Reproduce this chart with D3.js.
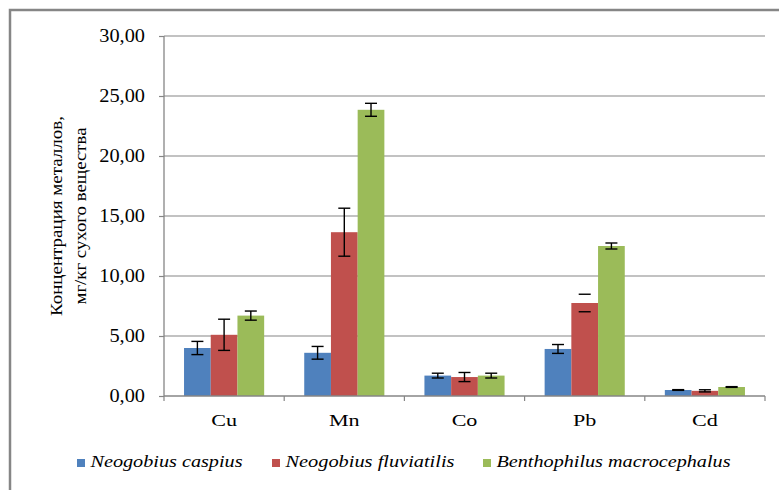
<!DOCTYPE html>
<html><head><meta charset="utf-8">
<script src="https://cdn.jsdelivr.net/npm/d3@7/dist/d3.min.js"></script>
<style>
body{margin:0;background:#fff;}
svg{display:block;}
text{font-family:"Liberation Serif","Times New Roman",serif;fill:#000;}
</style></head>
<body><svg id="c" width="779" height="490"></svg>
<script>
const categories = ["Cu","Mn","Co","Pb","Cd"];
const seriesNames = ["Neogobius caspius","Neogobius fluviatilis","Benthophilus macrocephalus"];
const seriesColors = ["#4F81BD","#C0504D","#9BBB59"];
const caspius    = [4.00, 3.60, 1.70, 3.92, 0.50];
const fluviatilis= [5.10, 13.65, 1.58, 7.75, 0.43];
const benthoph   = [6.70, 23.85, 1.70, 12.50, 0.75];
const caspiusErr    = [0.55, 0.53, 0.20, 0.37, 0.03];
const fluviatilisErr= [1.30, 2.00, 0.38, 0.73, 0.09];
const benthophErr   = [0.38, 0.54, 0.20, 0.25, 0.03];
const fluviatilisStem = [true, true, true, false, true];
const yTicks = [0,5,10,15,20,25,30];
const yTitle = ["Концентрация  металлов,", "мг/кг сухого вещества"];

const values = [caspius, fluviatilis, benthoph];
const errs = [caspiusErr, fluviatilisErr, benthophErr];
const stems = [categories.map(()=>true), fluviatilisStem, categories.map(()=>true)];

const svg = d3.select("#c");
const grey = "#868686";

// outer border
svg.append("rect").attr("x",10).attr("y",10).attr("width",800).attr("height",520)
  .attr("fill","none").attr("stroke",grey).attr("stroke-width",2.5);

const x = d3.scaleBand().domain(categories).range([164,765]).paddingInner(0).paddingOuter(0);
const y = d3.scaleLinear().domain([0,30]).range([396,36]);
const bw = x.bandwidth()/4.5;
const sub = d3.scaleBand().domain(d3.range(3)).range([x.bandwidth()/2-1.5*bw, x.bandwidth()/2+1.5*bw]);

// gridlines
svg.append("g").selectAll("line").data(yTicks.filter(t=>t>0)).join("line")
  .attr("x1",164).attr("x2",765).attr("y1",d=>y(d)).attr("y2",d=>y(d))
  .attr("stroke",grey).attr("stroke-width",1.2);

// y axis
const ya = svg.append("g").attr("transform","translate(164,0)")
  .call(d3.axisLeft(y).tickValues(yTicks).tickSize(5).tickPadding(0).tickFormat(()=>""));
ya.select(".domain").attr("stroke",grey).attr("stroke-width",1.3).attr("d","M0,36V396");
ya.selectAll(".tick line").attr("stroke",grey).attr("stroke-width",1.2);
svg.append("g").selectAll("text").data(yTicks).join("text")
  .attr("transform",d=>`translate(145,${y(d)+6}) scale(1.13,1)`)
  .attr("text-anchor","end").attr("font-size",18)
  .text(d=>d3.format(".2f")(d).replace(".",","));

// bars
const bars = svg.append("g");
values.forEach((vals,si)=>{
  bars.append("g").selectAll("rect").data(categories).join("rect")
    .attr("x",(c)=>x(c)+sub(si)).attr("width",sub.bandwidth())
    .attr("y",(c,i)=>y(vals[i])).attr("height",(c,i)=>y(0)-y(vals[i]))
    .attr("fill",seriesColors[si]);
});

// x axis
const xa = svg.append("g").attr("transform","translate(0,396)");
xa.append("line").attr("x1",164).attr("x2",765).attr("stroke",grey).attr("stroke-width",1.3);
xa.selectAll("line.t").data(categories.concat(["_end"])).join("line").attr("class","t")
  .attr("x1",(c,i)=>i<categories.length?x(c):765).attr("x2",(c,i)=>i<categories.length?x(c):765)
  .attr("y1",0).attr("y2",5).attr("stroke",grey).attr("stroke-width",1.2);
svg.append("g").selectAll("text").data(categories).join("text")
  .attr("transform",c=>`translate(${x(c)+x.bandwidth()/2},425.5) scale(1.38,1)`)
  .attr("text-anchor","middle").attr("font-size",16).text(c=>c);

// error bars
const eg = svg.append("g").attr("stroke","#000").attr("stroke-width",1.4);
values.forEach((vals,si)=>{
  categories.forEach((c,i)=>{
    const cx = x(c)+sub(si)+sub.bandwidth()/2;
    const hi = y(vals[i]+errs[si][i]), lo = y(vals[i]-errs[si][i]);
    if (stems[si][i]) eg.append("line").attr("x1",cx).attr("x2",cx).attr("y1",hi).attr("y2",lo);
    eg.append("line").attr("x1",cx-6).attr("x2",cx+6).attr("y1",hi).attr("y2",hi);
    eg.append("line").attr("x1",cx-6).attr("x2",cx+6).attr("y1",lo).attr("y2",lo);
  });
});

// y title
const tg = svg.append("g").attr("transform","translate(0,216) rotate(-90)");
tg.append("text").attr("x",0).attr("y",62).attr("text-anchor","middle").attr("font-size",17)
  .attr("textLength",200).attr("lengthAdjust","spacingAndGlyphs").text(yTitle[0]);
tg.append("text").attr("x",0).attr("y",86).attr("text-anchor","middle").attr("font-size",17)
  .attr("textLength",177).attr("lengthAdjust","spacingAndGlyphs").text(yTitle[1]);

// legend
const legX = [77, 272, 483];
const legW = [152, 169, 234];
const lg = svg.append("g");
seriesNames.forEach((n,i)=>{
  lg.append("rect").attr("x",legX[i]).attr("y",459).attr("width",8).attr("height",8).attr("fill",seriesColors[i]);
  lg.append("text").attr("x",legX[i]+13.5).attr("y",467).attr("font-size",16).attr("font-style","italic")
    .attr("textLength",legW[i]).attr("lengthAdjust","spacingAndGlyphs").text(n);
});
</script></body></html>
